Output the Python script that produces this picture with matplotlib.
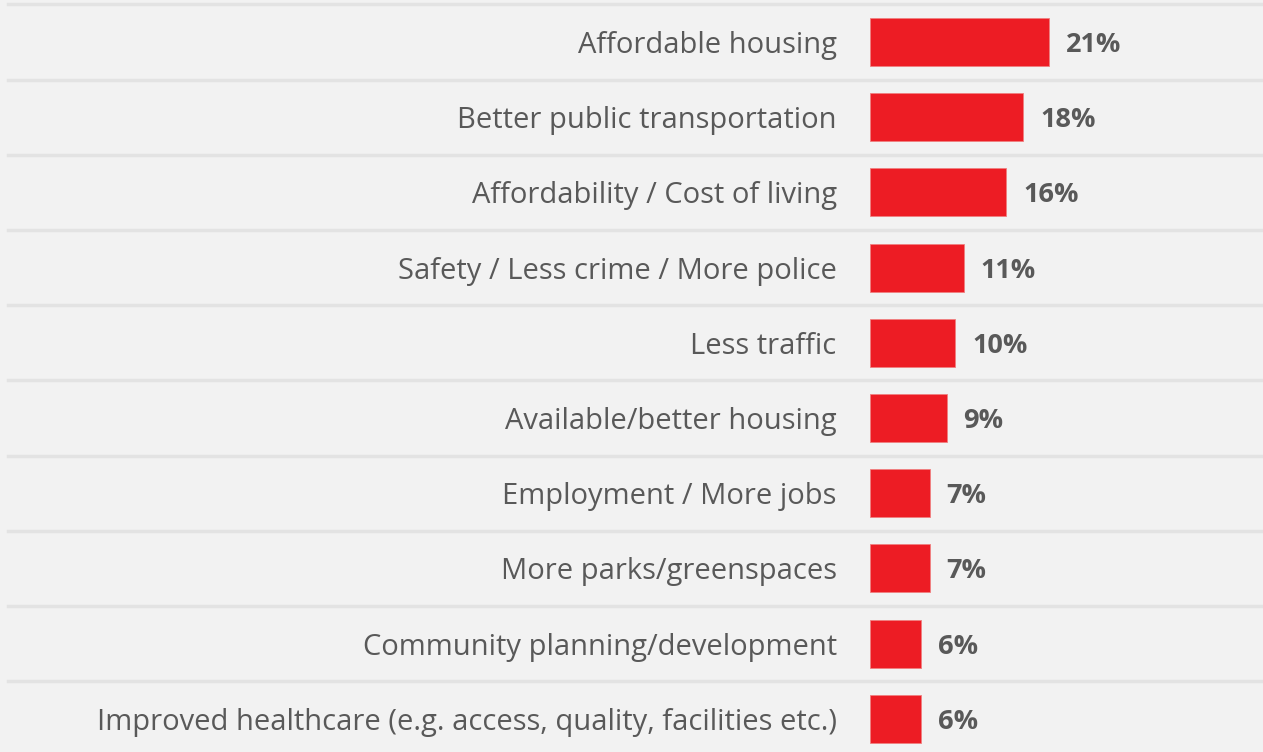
import numpy as np
import matplotlib.pyplot as plt

# Datos del gráfico
categorias = [
    'Affordable housing',
    'Better public transportation',
    'Affordability / Cost of living',
    'Safety / Less crime / More police',
    'Less traffic',
    'Available/better housing',
    'Employment / More jobs',
    'More parks/greenspaces',
    'Community planning/development',
    'Improved healthcare (e.g. access, quality, facilities etc.)',
]
valores = [21, 18, 16, 11, 10, 9, 7, 7, 6, 6]

plt.rcParams['font.family'] = ['Open Sans', 'DejaVu Sans']

W, H = 1263, 752
fig = plt.figure(figsize=(W / 100, H / 100), dpi=100, facecolor='#f2f2f2')
ax = fig.add_axes([870 / W, 0, (W - 870) / W, 1])
ax.set_facecolor('#f2f2f2')

y = np.arange(len(categorias))
ax.barh(y, valores, height=0.64, color='#ed1c24', edgecolor='#f08080', linewidth=0.6, zorder=3)

for yi, v in zip(y, valores):
    ax.text(v + 2.0, yi, f'{v}%', va='center_baseline', ha='left', fontsize=19.5,
            fontweight='bold', color='#595959')

# separadores entre filas
x0 = (8 - 870) / (W - 870)
for i in range(len(categorias) + 1):
    ax.axhline(i - 0.5, xmin=x0, xmax=1, color='#e3e3e3', linewidth=2.5,
               clip_on=False, zorder=1)

ax.set_xlim(0, (W - 870) / 8.5)
ax.set_ylim((H - 42) / 75.2, -42 / 75.2)
ax.set_yticks(y)
ax.set_yticklabels(categorias, fontsize=21, color='#595959')
ax.tick_params(axis='y', length=0, pad=24)
ax.set_xticks([])
for s in ax.spines.values():
    s.set_visible(False)

fig.savefig('out.png', dpi=100, facecolor=fig.get_facecolor())
